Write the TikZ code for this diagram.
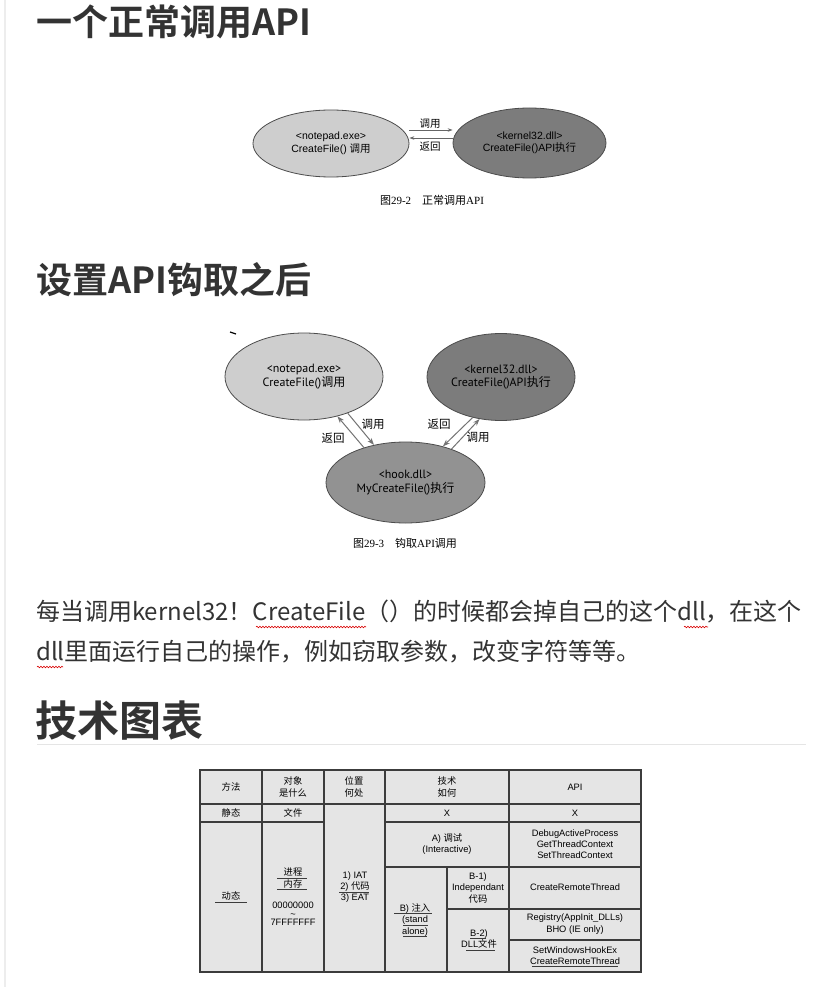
\documentclass[tikz,border=0pt]{standalone}
\usepackage{fontspec}
\setmainfont{Liberation Sans}
\newfontfamily\cjk{Noto Sans CJK SC}[BoldFont={Noto Sans CJK SC Bold}]
\newfontfamily\ptsans{PT Sans}
\newfontfamily\capserif{Liberation Serif}
\usetikzlibrary{positioning, arrows.meta, shapes.geometric, calc, decorations.pathmorphing}
\definecolor{inkGray}{RGB}{51,51,51}
\definecolor{lightEll}{RGB}{206,206,206}
\definecolor{darkEll}{RGB}{124,124,124}
\definecolor{midEll}{RGB}{146,146,146}
\definecolor{tabFill}{RGB}{229,229,229}
\definecolor{tabLine}{RGB}{60,60,60}
\newcommand{\zh}[1]{{\cjk #1}}

\begin{document}
\begin{tikzpicture}[x=1pt, y=-1pt,
  heading/.style={anchor=west, inner sep=0pt, text=inkGray, font=\cjk\bfseries\fontsize{36}{40}\selectfont},
  body/.style={anchor=west, inner sep=0pt, text=inkGray, font=\cjk\fontsize{24}{28}\selectfont},
  ell/.style={ellipse, draw=black!70, line width=0.8pt, align=center, inner sep=0pt},
  txtA/.style={font=\fontsize{10.5}{12.5}\selectfont},
  txtB/.style={font=\ptsans\fontsize{12}{13.5}\selectfont},
  lbl/.style={inner sep=0pt, font=\cjk\fontsize{10.5}{12}\selectfont},
  lblB/.style={inner sep=0pt, font=\cjk\fontsize{11.5}{12}\selectfont},
  capt/.style={inner sep=0pt, font=\capserif\fontsize{11}{12}\selectfont},
  arrA/.style={draw=black!60, line width=0.7pt, -{Stealth[length=5pt, width=3.5pt]}},
  arrB/.style={draw=black!55, line width=1pt, -{Stealth[length=7pt, width=5pt]}},
  cell/.style={inner sep=0pt, align=center, font=\fontsize{9.3}{11.3}\selectfont},
  tline/.style={draw=tabLine, line width=1.1pt},
  uline/.style={draw=tabLine, line width=0.7pt},
  squig/.style={draw=red!85!black, line width=0.6pt, decorate,
    decoration={snake, segment length=3pt, amplitude=0.8pt}},
]
\useasboundingbox (0,0) rectangle (834,987);
\fill[white] (0,0) rectangle (834,987);
\clip (0,0) rectangle (834,987);
\fill[black!7] (4,0) rectangle (6,987);

\node[heading] (h1) at (36,22) {一个正常调用API};

\node[ell, fill=lightEll, minimum width=156pt, minimum height=67pt, txtA] (np) at (331,143.5)
  {<notepad.exe>\\CreateFile() \zh{调用}};
\node[ell, fill=darkEll, minimum width=153pt, minimum height=70pt, txtA] (k32) at (529.5,143)
  {<kernel32.dll>\\CreateFile()API\zh{执行}};
\draw[arrA] ($(np.east)+(0,-13.5)$) -- ($(k32.west)+(0,-13)$);
\draw[arrA] ($(k32.west)+(0,-5)$) -- ($(np.east)+(0,-5.5)$);
\node[lbl] (callA) at (430,123.5) {调用};
\node[lbl] (retA) at (430,147) {返回};
\node[capt] (cap1) at (432,200) {\zh{图}29-2\quad\zh{正常调用}API};

\node[heading] (h2) at (36,280) {设置API钩取之后};

\draw[line width=1.2pt] (230,332) -- (236,334);
\node[ell, fill=lightEll, minimum width=158pt, minimum height=87pt, txtB] (np2) at (304,376.5)
  {<notepad.exe>\\CreateFile()\zh{调用}};
\node[ell, fill=darkEll, minimum width=148pt, minimum height=87pt, txtB] (k2) at (501,377)
  {<kernel32.dll>\\CreateFile()API\zh{执行}};
\node[ell, fill=midEll, minimum width=159pt, minimum height=81pt, txtB] (hook) at (405.5,482.5)
  {<hook.dll>\\MyCreateFile()\zh{执行}};
\draw[arrB] (np2.-40) -- (hook.130);
\draw[arrB] (hook.140) -- (np2.-50);
\draw[arrB] (k2.-125) -- (hook.44);
\draw[arrB] (hook.36) -- (k2.-117);
\node[lblB] (callB1) at (373,424) {调用};
\node[lblB] (retB1) at (333,438) {返回};
\node[lblB] (retB2) at (439,424) {返回};
\node[lblB] (callB2) at (478,437) {调用};
\node[capt] (cap2) at (405,543) {\zh{图}29-3\quad\zh{钩取}API\zh{调用}};

\node[body] (para1) at (36,612) {每当调用kernel32！CreateFile（）的时候都会掉自己的这个dll，在这个};
\node[body] (para2) at (36,652) {dll里面运行自己的操作，例如窃取参数，改变字符等等。};
\draw[squig] (256,627) -- (366,627);
\draw[squig] (684,627) -- (708,627);
\draw[squig] (37,667) -- (63,667);

\node[heading, font=\cjk\bfseries\fontsize{42}{46}\selectfont] (h3) at (35,721) {技术图表};
\draw[black!10, line width=1pt] (37,744) -- (806,744);

\fill[tabFill] (200,770) rectangle (641,972);
\draw[tline] (200,804) -- (641,804);
\draw[tline] (200,822) -- (324,822);
\draw[tline] (385,822) -- (641,822);
\draw[tline] (385,867) -- (641,867);
\draw[tline] (447,909) -- (641,909);
\draw[tline] (509,940) -- (641,940);
\foreach \cx in {262,324,385,509} {
  \draw[tline] (\cx,770) -- (\cx,972);
}
\draw[tline] (447,867) -- (447,972);
\draw[tabLine, line width=1.6pt] (200,770) rectangle (641,972);

\node[cell] (t11) at (231,787) {\zh{方法}};
\node[cell] (t12) at (293,787) {\zh{对象}\\\zh{是什么}};
\node[cell] (t13) at (354,787) {\zh{位置}\\\zh{何处}};
\node[cell] (t14) at (447,787) {\zh{技术}\\\zh{如何}};
\node[cell] (t15) at (575,787) {API};
\node[cell] (t21) at (231,813) {\zh{静态}};
\node[cell] (t22) at (293,813) {\zh{文件}};
\node[cell] (t24) at (447,813) {X};
\node[cell] (t25) at (575,813) {X};
\node[cell] (t31) at (231,896) {\zh{动态}};
\node[cell] (t32) at (293,878) {\zh{进程}\\\zh{内存}};
\node[cell, font=\fontsize{9.3}{8.5}\selectfont] (t32b) at (293,914) {00000000\\\textasciitilde\\7FFFFFFF};
\node[cell] (t33) at (355,887) {1) IAT\\2) \zh{代码}\\3) EAT};
\node[cell] (t34a) at (447,844) {A) \zh{调试}\\(Interactive)};
\node[cell] (t34b) at (415,920) {B) \zh{注入}\\(stand\\alone)};
\node[cell] (t34c) at (478,888) {B-1)\\Independant\\\zh{代码}};
\node[cell] (t34d) at (479,939) {B-2)\\DLL\zh{文件}};
\node[cell] (t35a) at (575,844) {DebugActiveProcess\\GetThreadContext\\SetThreadContext};
\node[cell] (t35b) at (575,887) {CreateRemoteThread};
\node[cell] (t35c) at (575,924) {Registry(AppInit\_DLLs)\\BHO (IE only)};
\node[cell] (t35d) at (575,956) {SetWindowsHookEx\\CreateRemoteThread};

\draw[uline] (215,902) -- (247,902);
\draw[uline] (277,878) -- (307,878);
\draw[uline] (277,889) -- (307,889);
\draw[uline] (339,892) -- (369,892);
\draw[uline] (394,913) -- (432,913);
\draw[uline] (403,925) -- (428,925);
\draw[uline] (403,936) -- (427,936);
\draw[uline] (470,938) -- (486,938);
\draw[uline] (466,950) -- (495,950);
\draw[uline] (532,966) -- (618,966);

\node[capt] (cap3) at (424,993) {\zh{图}29-4\quad API\zh{钩取技术图表}};
\end{tikzpicture}
\end{document}
